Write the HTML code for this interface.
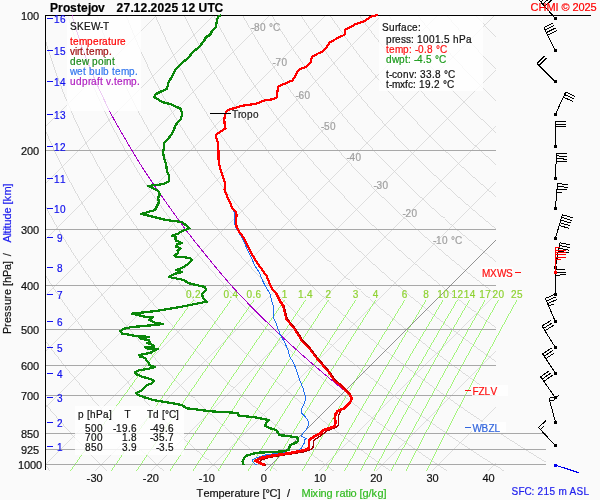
<!DOCTYPE html><html><head><meta charset="utf-8"><style>html,body{margin:0;padding:0;background:#fafafa}svg{display:block}path,rect{shape-rendering:crispEdges}text{font-family:"Liberation Sans",Arial,sans-serif;stroke-width:0.2px}</style></head><body>
<svg width="600" height="500" viewBox="0 0 600 500">
<rect width="600" height="500" fill="#fafafa"/>
<path d="M45 127.45 L157.45 15 M45 183.63 L213.63 15 M45 239.81 L269.81 15 M45 295.99 L325.99 15 M45 352.17 L382.17 15 M45 408.35 L438.35 15 M45 464.53 L494.53 15 M94.71 471 L496 69.71 M150.89 471 L496 125.89 M207.07 471 L496 182.07 M319.43 471 L496 294.43 M375.61 471 L496 350.61 M431.79 471 L496 406.79 M487.97 471 L496 462.97" stroke="#d4d4d4" stroke-width="0.75" fill="none"/>
<path d="M50.35 471 L48.49 469 L46.65 467 L45 465.2 M107.03 471 L105.01 469 L103.01 467 L101.01 465 L99.02 463 L97.05 461 L95.09 459 L93.14 457 L91.2 455 L89.28 453 L87.36 451 L85.46 449 L83.57 447 L81.69 445 L79.82 443 L77.96 441 L76.11 439 L74.28 437 L72.45 435 L70.64 433 L68.83 431 L67.04 429 L65.26 427 L63.49 425 L61.74 423 L59.99 421 L58.25 419 L56.53 417 L54.81 415 L53.11 413 L51.42 411 L49.73 409 L48.06 407 L46.4 405 L45 403.3 M163.72 471 L161.53 469 L159.36 467 L157.2 465 L155.05 463 L152.92 461 L150.79 459 L148.68 457 L146.58 455 L144.49 453 L142.42 451 L140.35 449 L138.3 447 L136.26 445 L134.23 443 L132.22 441 L130.21 439 L128.22 437 L126.23 435 L124.26 433 L122.31 431 L120.36 429 L118.42 427 L116.5 425 L114.59 423 L112.68 421 L110.79 419 L108.92 417 L107.05 415 L105.19 413 L103.35 411 L101.51 409 L99.69 407 L97.88 405 L96.08 403 L94.29 401 L92.51 399 L90.75 397 L88.99 395 L87.25 393 L85.51 391 L83.79 389 L82.08 387 L80.37 385 L78.68 383 L77 381 L75.33 379 L73.68 377 L72.03 375 L70.39 373 L68.76 371 L67.15 369 L65.54 367 L63.95 365 L62.36 363 L60.79 361 L59.22 359 L57.67 357 L56.13 355 L54.6 353 L53.07 351 L51.56 349 L50.06 347 L48.57 345 L47.09 343 L45.62 341 L45 340.16 M220.41 471 L218.06 469 L215.72 467 L213.39 465 L211.08 463 L208.78 461 L206.5 459 L204.22 457 L201.96 455 L199.71 453 L197.47 451 L195.25 449 L193.04 447 L190.84 445 L188.65 443 L186.47 441 L184.31 439 L182.16 437 L180.02 435 L177.89 433 L175.78 431 L173.67 429 L171.58 427 L169.5 425 L167.44 423 L165.38 421 L163.34 419 L161.3 417 L159.28 415 L157.28 413 L155.28 411 L153.29 409 L151.32 407 L149.36 405 L147.41 403 L145.47 401 L143.54 399 L141.63 397 L139.72 395 L137.83 393 L135.95 391 L134.08 389 L132.22 387 L130.37 385 L128.53 383 L126.71 381 L124.9 379 L123.09 377 L121.3 375 L119.52 373 L117.75 371 L115.99 369 L114.24 367 L112.51 365 L110.78 363 L109.06 361 L107.36 359 L105.67 357 L103.98 355 L102.31 353 L100.65 351 L99 349 L97.36 347 L95.73 345 L94.11 343 L92.5 341 L90.9 339 L89.32 337 L87.74 335 L86.17 333 L84.62 331 L83.07 329 L81.54 327 L80.01 325 L78.5 323 L76.99 321 L75.5 319 L74.01 317 L72.54 315 L71.08 313 L69.62 311 L68.18 309 L66.74 307 L65.32 305 L63.91 303 L62.5 301 L61.11 299 L59.73 297 L58.35 295 L56.99 293 L55.63 291 L54.29 289 L52.95 287 L51.63 285 L50.31 283 L49.01 281 L47.71 279 L46.43 277 L45.15 275 L45 274.76 M277.09 471 L274.58 469 L272.08 467 L269.59 465 L267.11 463 L264.65 461 L262.2 459 L259.76 457 L257.34 455 L254.93 453 L252.53 451 L250.14 449 L247.77 447 L245.41 445 L243.06 443 L240.73 441 L238.41 439 L236.1 437 L233.8 435 L231.52 433 L229.25 431 L226.99 429 L224.74 427 L222.51 425 L220.29 423 L218.08 421 L215.88 419 L213.69 417 L211.52 415 L209.36 413 L207.21 411 L205.07 409 L202.95 407 L200.84 405 L198.74 403 L196.65 401 L194.57 399 L192.51 397 L190.46 395 L188.41 393 L186.39 391 L184.37 389 L182.36 387 L180.37 385 L178.39 383 L176.42 381 L174.46 379 L172.51 377 L170.57 375 L168.65 373 L166.73 371 L164.83 369 L162.94 367 L161.06 365 L159.2 363 L157.34 361 L155.49 359 L153.66 357 L151.84 355 L150.03 353 L148.22 351 L146.44 349 L144.66 347 L142.89 345 L141.13 343 L139.39 341 L137.65 339 L135.93 337 L134.22 335 L132.51 333 L130.82 331 L129.14 329 L127.47 327 L125.81 325 L124.17 323 L122.53 321 L120.9 319 L119.29 317 L117.68 315 L116.08 313 L114.5 311 L112.92 309 L111.36 307 L109.81 305 L108.26 303 L106.73 301 L105.21 299 L103.7 297 L102.19 295 L100.7 293 L99.22 291 L97.75 289 L96.29 287 L94.83 285 L93.39 283 L91.96 281 L90.54 279 L89.13 277 L87.73 275 L86.34 273 L84.96 271 L83.58 269 L82.22 267 L80.87 265 L79.53 263 L78.19 261 L76.87 259 L75.56 257 L74.26 255 L72.96 253 L71.68 251 L70.4 249 L69.14 247 L67.88 245 L66.64 243 L65.4 241 L64.17 239 L62.95 237 L61.75 235 L60.55 233 L59.36 231 L58.18 229 L57.01 227 L55.84 225 L54.69 223 L53.55 221 L52.41 219 L51.29 217 L50.17 215 L49.06 213 L47.97 211 L46.88 209 L45.8 207 L45 205.51 M333.78 471 L331.1 469 L328.43 467 L325.78 465 L323.14 463 L320.51 461 L317.9 459 L315.3 457 L312.72 455 L310.14 453 L307.58 451 L305.04 449 L302.51 447 L299.99 445 L297.48 443 L294.99 441 L292.51 439 L290.04 437 L287.59 435 L285.15 433 L282.72 431 L280.3 429 L277.9 427 L275.51 425 L273.14 423 L270.77 421 L268.42 419 L266.08 417 L263.76 415 L261.44 413 L259.14 411 L256.86 409 L254.58 407 L252.32 405 L250.07 403 L247.83 401 L245.6 399 L243.39 397 L241.19 395 L239 393 L236.82 391 L234.66 389 L232.51 387 L230.37 385 L228.24 383 L226.12 381 L224.02 379 L221.93 377 L219.84 375 L217.78 373 L215.72 371 L213.68 369 L211.64 367 L209.62 365 L207.61 363 L205.61 361 L203.63 359 L201.65 357 L199.69 355 L197.74 353 L195.8 351 L193.87 349 L191.96 347 L190.05 345 L188.16 343 L186.27 341 L184.4 339 L182.54 337 L180.69 335 L178.86 333 L177.03 331 L175.21 329 L173.41 327 L171.62 325 L169.84 323 L168.07 321 L166.31 319 L164.56 317 L162.82 315 L161.09 313 L159.38 311 L157.67 309 L155.98 307 L154.29 305 L152.62 303 L150.96 301 L149.3 299 L147.66 297 L146.03 295 L144.41 293 L142.8 291 L141.21 289 L139.62 287 L138.04 285 L136.47 283 L134.92 281 L133.37 279 L131.83 277 L130.31 275 L128.79 273 L127.29 271 L125.79 269 L124.31 267 L122.83 265 L121.37 263 L119.91 261 L118.47 259 L117.03 257 L115.61 255 L114.19 253 L112.79 251 L111.4 249 L110.01 247 L108.64 245 L107.27 243 L105.92 241 L104.57 239 L103.23 237 L101.91 235 L100.59 233 L99.29 231 L97.99 229 L96.7 227 L95.42 225 L94.16 223 L92.9 221 L91.65 219 L90.41 217 L89.18 215 L87.96 213 L86.75 211 L85.54 209 L84.35 207 L83.17 205 L82 203 L80.83 201 L79.67 199 L78.53 197 L77.39 195 L76.26 193 L75.14 191 L74.03 189 L72.93 187 L71.84 185 L70.76 183 L69.69 181 L68.62 179 L67.57 177 L66.52 175 L65.48 173 L64.45 171 L63.43 169 L62.42 167 L61.42 165 L60.42 163 L59.44 161 L58.46 159 L57.49 157 L56.53 155 L55.58 153 L54.64 151 L53.71 149 L52.78 147 L51.87 145 L50.96 143 L50.06 141 L49.17 139 L48.29 137 L47.41 135 L46.55 133 L45.69 131 L45 129.38 M390.47 471 L387.62 469 L384.79 467 L381.97 465 L379.17 463 L376.38 461 L373.6 459 L370.84 457 L368.09 455 L365.36 453 L362.64 451 L359.93 449 L357.24 447 L354.56 445 L351.9 443 L349.24 441 L346.61 439 L343.98 437 L341.37 435 L338.77 433 L336.19 431 L333.62 429 L331.06 427 L328.52 425 L325.98 423 L323.47 421 L320.96 419 L318.47 417 L315.99 415 L313.53 413 L311.07 411 L308.64 409 L306.21 407 L303.8 405 L301.4 403 L299.01 401 L296.63 399 L294.27 397 L291.92 395 L289.58 393 L287.26 391 L284.95 389 L282.65 387 L280.36 385 L278.09 383 L275.83 381 L273.58 379 L271.34 377 L269.12 375 L266.91 373 L264.71 371 L262.52 369 L260.34 367 L258.18 365 L256.03 363 L253.89 361 L251.76 359 L249.65 357 L247.55 355 L245.46 353 L243.38 351 L241.31 349 L239.25 347 L237.21 345 L235.18 343 L233.16 341 L231.15 339 L229.16 337 L227.17 335 L225.2 333 L223.24 331 L221.29 329 L219.35 327 L217.42 325 L215.51 323 L213.6 321 L211.71 319 L209.83 317 L207.96 315 L206.1 313 L204.25 311 L202.42 309 L200.59 307 L198.78 305 L196.97 303 L195.18 301 L193.4 299 L191.63 297 L189.87 295 L188.13 293 L186.39 291 L184.66 289 L182.95 287 L181.24 285 L179.55 283 L177.87 281 L176.2 279 L174.54 277 L172.89 275 L171.25 273 L169.62 271 L168 269 L166.39 267 L164.79 265 L163.21 263 L161.63 261 L160.06 259 L158.51 257 L156.96 255 L155.43 253 L153.9 251 L152.39 249 L150.88 247 L149.39 245 L147.91 243 L146.43 241 L144.97 239 L143.52 237 L142.07 235 L140.64 233 L139.22 231 L137.8 229 L136.4 227 L135.01 225 L133.62 223 L132.25 221 L130.88 219 L129.53 217 L128.19 215 L126.85 213 L125.53 211 L124.21 209 L122.91 207 L121.61 205 L120.32 203 L119.05 201 L117.78 199 L116.52 197 L115.28 195 L114.04 193 L112.81 191 L111.59 189 L110.38 187 L109.18 185 L107.99 183 L106.8 181 L105.63 179 L104.47 177 L103.31 175 L102.17 173 L101.03 171 L99.9 169 L98.79 167 L97.68 165 L96.58 163 L95.49 161 L94.41 159 L93.33 157 L92.27 155 L91.21 153 L90.17 151 L89.13 149 L88.1 147 L87.08 145 L86.07 143 L85.07 141 L84.08 139 L83.09 137 L82.12 135 L81.15 133 L80.19 131 L79.24 129 L78.3 127 L77.37 125 L76.45 123 L75.53 121 L74.63 119 L73.73 117 L72.84 115 L71.96 113 L71.08 111 L70.22 109 L69.36 107 L68.51 105 L67.67 103 L66.84 101 L66.02 99 L65.2 97 L64.4 95 L63.6 93 L62.81 91 L62.03 89 L61.25 87 L60.49 85 L59.73 83 L58.98 81 L58.24 79 L57.5 77 L56.78 75 L56.06 73 L55.35 71 L54.65 69 L53.95 67 L53.27 65 L52.59 63 L51.92 61 L51.25 59 L50.6 57 L49.95 55 L49.31 53 L48.68 51 L48.05 49 L47.44 47 L46.83 45 L46.23 43 L45.63 41 L45.05 39 L45 38.84 M447.15 471 L444.14 469 L441.14 467 L438.16 465 L435.2 463 L432.24 461 L429.3 459 L426.38 457 L423.47 455 L420.58 453 L417.69 451 L414.83 449 L411.97 447 L409.14 445 L406.31 443 L403.5 441 L400.71 439 L397.92 437 L395.15 435 L392.4 433 L389.66 431 L386.93 429 L384.22 427 L381.52 425 L378.83 423 L376.16 421 L373.5 419 L370.86 417 L368.23 415 L365.61 413 L363.01 411 L360.42 409 L357.84 407 L355.27 405 L352.72 403 L350.19 401 L347.66 399 L345.15 397 L342.65 395 L340.17 393 L337.7 391 L335.24 389 L332.79 387 L330.36 385 L327.94 383 L325.53 381 L323.14 379 L320.76 377 L318.39 375 L316.03 373 L313.69 371 L311.36 369 L309.04 367 L306.74 365 L304.45 363 L302.17 361 L299.9 359 L297.64 357 L295.4 355 L293.17 353 L290.95 351 L288.75 349 L286.55 347 L284.37 345 L282.2 343 L280.05 341 L277.9 339 L275.77 337 L273.65 335 L271.54 333 L269.44 331 L267.36 329 L265.29 327 L263.22 325 L261.18 323 L259.14 321 L257.11 319 L255.1 317 L253.1 315 L251.11 313 L249.13 311 L247.16 309 L245.21 307 L243.26 305 L241.33 303 L239.41 301 L237.5 299 L235.6 297 L233.71 295 L231.84 293 L229.97 291 L228.12 289 L226.28 287 L224.45 285 L222.63 283 L220.82 281 L219.02 279 L217.24 277 L215.46 275 L213.7 273 L211.95 271 L210.21 269 L208.47 267 L206.75 265 L205.04 263 L203.35 261 L201.66 259 L199.98 257 L198.31 255 L196.66 253 L195.01 251 L193.38 249 L191.76 247 L190.14 245 L188.54 243 L186.95 241 L185.37 239 L183.8 237 L182.23 235 L180.68 233 L179.14 231 L177.61 229 L176.1 227 L174.59 225 L173.09 223 L171.6 221 L170.12 219 L168.65 217 L167.19 215 L165.74 213 L164.31 211 L162.88 209 L161.46 207 L160.05 205 L158.65 203 L157.27 201 L155.89 199 L154.52 197 L153.16 195 L151.81 193 L150.47 191 L149.14 189 L147.82 187 L146.51 185 L145.21 183 L143.92 181 L142.64 179 L141.37 177 L140.11 175 L138.85 173 L137.61 171 L136.38 169 L135.15 167 L133.94 165 L132.73 163 L131.54 161 L130.35 159 L129.17 157 L128 155 L126.85 153 L125.7 151 L124.55 149 L123.42 147 L122.3 145 L121.19 143 L120.08 141 L118.99 139 L117.9 137 L116.83 135 L115.76 133 L114.7 131 L113.65 129 L112.61 127 L111.57 125 L110.55 123 L109.54 121 L108.53 119 L107.53 117 L106.54 115 L105.56 113 L104.59 111 L103.63 109 L102.68 107 L101.73 105 L100.8 103 L99.87 101 L98.95 99 L98.04 97 L97.14 95 L96.24 93 L95.36 91 L94.48 89 L93.61 87 L92.75 85 L91.9 83 L91.05 81 L90.22 79 L89.39 77 L88.57 75 L87.76 73 L86.96 71 L86.16 69 L85.38 67 L84.6 65 L83.83 63 L83.07 61 L82.31 59 L81.57 57 L80.83 55 L80.1 53 L79.38 51 L78.67 49 L77.96 47 L77.26 45 L76.57 43 L75.89 41 L75.21 39 L74.55 37 L73.89 35 L73.24 33 L72.59 31 L71.96 29 L71.33 27 L70.71 25 L70.1 23 L69.49 21 L68.89 19 L68.3 17 L67.72 15 L67.72 15 M496 466.05 L494.36 465 L491.22 463 L488.11 461 L485.01 459 L481.92 457 L478.85 455 L475.79 453 L472.75 451 L469.72 449 L466.71 447 L463.71 445 L460.73 443 L457.76 441 L454.8 439 L451.86 437 L448.94 435 L446.03 433 L443.13 431 L440.25 429 L437.38 427 L434.52 425 L431.68 423 L428.86 421 L426.05 419 L423.25 417 L420.46 415 L417.69 413 L414.94 411 L412.2 409 L409.47 407 L406.75 405 L404.05 403 L401.37 401 L398.69 399 L396.03 397 L393.39 395 L390.75 393 L388.13 391 L385.53 389 L382.94 387 L380.36 385 L377.79 383 L375.24 381 L372.7 379 L370.18 377 L367.66 375 L365.16 373 L362.68 371 L360.2 369 L357.74 367 L355.3 365 L352.86 363 L350.44 361 L348.03 359 L345.64 357 L343.25 355 L340.89 353 L338.53 351 L336.18 349 L333.85 347 L331.53 345 L329.23 343 L326.93 341 L324.65 339 L322.38 337 L320.13 335 L317.88 333 L315.65 331 L313.43 329 L311.22 327 L309.03 325 L306.85 323 L304.68 321 L302.52 319 L300.37 317 L298.24 315 L296.12 313 L294.01 311 L291.91 309 L289.82 307 L287.75 305 L285.69 303 L283.63 301 L281.6 299 L279.57 297 L277.55 295 L275.55 293 L273.56 291 L271.58 289 L269.61 287 L267.65 285 L265.71 283 L263.78 281 L261.85 279 L259.94 277 L258.04 275 L256.15 273 L254.28 271 L252.41 269 L250.56 267 L248.72 265 L246.88 263 L245.06 261 L243.25 259 L241.46 257 L239.67 255 L237.89 253 L236.13 251 L234.37 249 L232.63 247 L230.9 245 L229.18 243 L227.46 241 L225.76 239 L224.08 237 L222.4 235 L220.73 233 L219.07 231 L217.43 229 L215.79 227 L214.17 225 L212.55 223 L210.95 221 L209.36 219 L207.77 217 L206.2 215 L204.64 213 L203.09 211 L201.55 209 L200.01 207 L198.49 205 L196.98 203 L195.48 201 L193.99 199 L192.51 197 L191.04 195 L189.59 193 L188.14 191 L186.7 189 L185.27 187 L183.85 185 L182.44 183 L181.04 181 L179.65 179 L178.27 177 L176.9 175 L175.54 173 L174.19 171 L172.85 169 L171.52 167 L170.2 165 L168.89 163 L167.59 161 L166.29 159 L165.01 157 L163.74 155 L162.48 153 L161.22 151 L159.98 149 L158.74 147 L157.52 145 L156.3 143 L155.1 141 L153.9 139 L152.71 137 L151.53 135 L150.36 133 L149.2 131 L148.05 129 L146.91 127 L145.78 125 L144.65 123 L143.54 121 L142.44 119 L141.34 117 L140.25 115 L139.17 113 L138.11 111 L137.05 109 L135.99 107 L134.95 105 L133.92 103 L132.89 101 L131.88 99 L130.87 97 L129.87 95 L128.88 93 L127.9 91 L126.93 89 L125.97 87 L125.01 85 L124.07 83 L123.13 81 L122.2 79 L121.28 77 L120.37 75 L119.46 73 L118.57 71 L117.68 69 L116.8 67 L115.93 65 L115.07 63 L114.22 61 L113.38 59 L112.54 57 L111.71 55 L110.89 53 L110.08 51 L109.28 49 L108.48 47 L107.69 45 L106.92 43 L106.14 41 L105.38 39 L104.63 37 L103.88 35 L103.14 33 L102.41 31 L101.69 29 L100.97 27 L100.27 25 L99.57 23 L98.88 21 L98.19 19 L97.52 17 L96.85 15 L96.85 15 M503.84 471 L500.66 469 L497.5 467 L496 466.05 M496 430.6 L493.56 429 L490.54 427 L487.53 425 L484.53 423 L481.55 421 L478.59 419 L475.64 417 L472.7 415 L469.78 413 L466.87 411 L463.98 409 L461.1 407 L458.23 405 L455.38 403 L452.54 401 L449.72 399 L446.91 397 L444.12 395 L441.34 393 L438.57 391 L435.82 389 L433.08 387 L430.35 385 L427.64 383 L424.95 381 L422.26 379 L419.59 377 L416.94 375 L414.29 373 L411.66 371 L409.05 369 L406.44 367 L403.85 365 L401.28 363 L398.72 361 L396.17 359 L393.63 357 L391.11 355 L388.6 353 L386.1 351 L383.62 349 L381.15 347 L378.69 345 L376.25 343 L373.82 341 L371.4 339 L368.99 337 L366.6 335 L364.22 333 L361.86 331 L359.5 329 L357.16 327 L354.83 325 L352.52 323 L350.21 321 L347.92 319 L345.64 317 L343.38 315 L341.12 313 L338.88 311 L336.65 309 L334.44 307 L332.23 305 L330.04 303 L327.86 301 L325.69 299 L323.54 297 L321.39 295 L319.26 293 L317.14 291 L315.04 289 L312.94 287 L310.86 285 L308.79 283 L306.73 281 L304.68 279 L302.65 277 L300.62 275 L298.61 273 L296.61 271 L294.62 269 L292.64 267 L290.68 265 L288.72 263 L286.78 261 L284.85 259 L282.93 257 L281.02 255 L279.12 253 L277.24 251 L275.36 249 L273.5 247 L271.65 245 L269.81 243 L267.98 241 L266.16 239 L264.36 237 L262.56 235 L260.78 233 L259 231 L257.24 229 L255.49 227 L253.75 225 L252.02 223 L250.3 221 L248.59 219 L246.89 217 L245.21 215 L243.53 213 L241.87 211 L240.21 209 L238.57 207 L236.94 205 L235.31 203 L233.7 201 L232.1 199 L230.51 197 L228.93 195 L227.36 193 L225.8 191 L224.25 189 L222.71 187 L221.18 185 L219.67 183 L218.16 181 L216.66 179 L215.17 177 L213.69 175 L212.23 173 L210.77 171 L209.32 169 L207.89 167 L206.46 165 L205.04 163 L203.64 161 L202.24 159 L200.85 157 L199.47 155 L198.11 153 L196.75 151 L195.4 149 L194.06 147 L192.74 145 L191.42 143 L190.11 141 L188.81 139 L187.52 137 L186.24 135 L184.97 133 L183.71 131 L182.46 129 L181.21 127 L179.98 125 L178.76 123 L177.55 121 L176.34 119 L175.15 117 L173.96 115 L172.78 113 L171.62 111 L170.46 109 L169.31 107 L168.17 105 L167.04 103 L165.92 101 L164.81 99 L163.7 97 L162.61 95 L161.53 93 L160.45 91 L159.38 89 L158.32 87 L157.28 85 L156.24 83 L155.2 81 L154.18 79 L153.17 77 L152.16 75 L151.17 73 L150.18 71 L149.2 69 L148.23 67 L147.27 65 L146.32 63 L145.37 61 L144.44 59 L143.51 57 L142.59 55 L141.68 53 L140.78 51 L139.89 49 L139 47 L138.13 45 L137.26 43 L136.4 41 L135.55 39 L134.71 37 L133.87 35 L133.05 33 L132.23 31 L131.42 29 L130.62 27 L129.82 25 L129.04 23 L128.26 21 L127.49 19 L126.73 17 L125.98 15 L125.98 15 M546 462.24 L543.97 461 L540.71 459 L537.46 457 L534.23 455 L531.01 453 L527.8 451 L524.62 449 L521.44 447 L518.29 445 L515.14 443 L512.02 441 L508.9 439 L505.81 437 L502.72 435 L499.65 433 L499.65 433 M496 395.78 L494.85 395 L491.92 393 L489.01 391 L486.11 389 L483.22 387 L480.35 385 L477.49 383 L474.65 381 L471.82 379 L469.01 377 L466.21 375 L463.42 373 L460.65 371 L457.89 369 L455.14 367 L452.41 365 L449.7 363 L446.99 361 L444.3 359 L441.63 357 L438.96 355 L436.31 353 L433.68 351 L431.06 349 L428.45 347 L425.85 345 L423.27 343 L420.7 341 L418.15 339 L415.61 337 L413.08 335 L410.56 333 L408.06 331 L405.57 329 L403.1 327 L400.64 325 L398.19 323 L395.75 321 L393.33 319 L390.91 317 L388.52 315 L386.13 313 L383.76 311 L381.4 309 L379.05 307 L376.72 305 L374.4 303 L372.09 301 L369.79 299 L367.51 297 L365.24 295 L362.98 293 L360.73 291 L358.5 289 L356.27 287 L354.06 285 L351.87 283 L349.68 281 L347.51 279 L345.35 277 L343.2 275 L341.06 273 L338.94 271 L336.83 269 L334.73 267 L332.64 265 L330.56 263 L328.5 261 L326.44 259 L324.4 257 L322.37 255 L320.36 253 L318.35 251 L316.36 249 L314.38 247 L312.4 245 L310.45 243 L308.5 241 L306.56 239 L304.64 237 L302.72 235 L300.82 233 L298.93 231 L297.05 229 L295.18 227 L293.33 225 L291.48 223 L289.65 221 L287.83 219 L286.01 217 L284.21 215 L282.42 213 L280.65 211 L278.88 209 L277.12 207 L275.38 205 L273.64 203 L271.92 201 L270.21 199 L268.5 197 L266.81 195 L265.13 193 L263.46 191 L261.8 189 L260.16 187 L258.52 185 L256.89 183 L255.27 181 L253.67 179 L252.07 177 L250.49 175 L248.91 173 L247.35 171 L245.8 169 L244.25 167 L242.72 165 L241.2 163 L239.69 161 L238.18 159 L236.69 157 L235.21 155 L233.74 153 L232.28 151 L230.83 149 L229.38 147 L227.95 145 L226.53 143 L225.12 141 L223.72 139 L222.33 137 L220.95 135 L219.57 133 L218.21 131 L216.86 129 L215.52 127 L214.19 125 L212.86 123 L211.55 121 L210.25 119 L208.95 117 L207.67 115 L206.39 113 L205.13 111 L203.87 109 L202.63 107 L201.39 105 L200.16 103 L198.95 101 L197.74 99 L196.54 97 L195.35 95 L194.17 93 L193 91 L191.83 89 L190.68 87 L189.54 85 L188.4 83 L187.28 81 L186.16 79 L185.06 77 L183.96 75 L182.87 73 L181.79 71 L180.72 69 L179.66 67 L178.6 65 L177.56 63 L176.52 61 L175.5 59 L174.48 57 L173.47 55 L172.47 53 L171.48 51 L170.5 49 L169.52 47 L168.56 45 L167.6 43 L166.66 41 L165.72 39 L164.79 37 L163.86 35 L162.95 33 L162.04 31 L161.15 29 L160.26 27 L159.38 25 L158.51 23 L157.65 21 L156.79 19 L155.94 17 L155.11 15 L155.11 15 M496 361.51 L495.27 361 L492.44 359 L489.62 357 L486.82 355 L484.03 353 L481.26 351 L478.49 349 L475.75 347 L473.02 345 L470.3 343 L467.59 341 L464.9 339 L462.22 337 L459.56 335 L456.91 333 L454.27 331 L451.65 329 L449.04 327 L446.44 325 L443.86 323 L441.29 321 L438.73 319 L436.19 317 L433.66 315 L431.14 313 L428.64 311 L426.14 309 L423.67 307 L421.2 305 L418.75 303 L416.31 301 L413.89 299 L411.48 297 L409.08 295 L406.69 293 L404.31 291 L401.95 289 L399.6 287 L397.27 285 L394.95 283 L392.64 281 L390.34 279 L388.05 277 L385.78 275 L383.52 273 L381.27 271 L379.03 269 L376.81 267 L374.6 265 L372.4 263 L370.21 261 L368.04 259 L365.88 257 L363.73 255 L361.59 253 L359.46 251 L357.35 249 L355.25 247 L353.16 245 L351.08 243 L349.01 241 L346.96 239 L344.92 237 L342.89 235 L340.87 233 L338.86 231 L336.87 229 L334.88 227 L332.91 225 L330.95 223 L329 221 L327.06 219 L325.14 217 L323.22 215 L321.32 213 L319.43 211 L317.55 209 L315.68 207 L313.82 205 L311.97 203 L310.14 201 L308.31 199 L306.5 197 L304.7 195 L302.91 193 L301.13 191 L299.36 189 L297.6 187 L295.85 185 L294.12 183 L292.39 181 L290.68 179 L288.98 177 L287.28 175 L285.6 173 L283.93 171 L282.27 169 L280.62 167 L278.98 165 L277.35 163 L275.73 161 L274.13 159 L272.53 157 L270.94 155 L269.37 153 L267.8 151 L266.25 149 L264.7 147 L263.17 145 L261.65 143 L260.13 141 L258.63 139 L257.14 137 L255.65 135 L254.18 133 L252.72 131 L251.26 129 L249.82 127 L248.39 125 L246.97 123 L245.55 121 L244.15 119 L242.76 117 L241.38 115 L240 113 L238.64 111 L237.29 109 L235.94 107 L234.61 105 L233.29 103 L231.97 101 L230.67 99 L229.37 97 L228.09 95 L226.81 93 L225.54 91 L224.29 89 L223.04 87 L221.8 85 L220.57 83 L219.35 81 L218.14 79 L216.94 77 L215.75 75 L214.57 73 L213.4 71 L212.24 69 L211.08 67 L209.94 65 L208.8 63 L207.68 61 L206.56 59 L205.45 57 L204.35 55 L203.26 53 L202.18 51 L201.11 49 L200.05 47 L198.99 45 L197.95 43 L196.91 41 L195.88 39 L194.86 37 L193.85 35 L192.85 33 L191.86 31 L190.88 29 L189.9 27 L188.94 25 L187.98 23 L187.03 21 L186.09 19 L185.16 17 L184.23 15 L184.23 15 M496 327.75 L494.97 327 L492.24 325 L489.53 323 L486.82 321 L484.13 319 L481.46 317 L478.8 315 L476.15 313 L473.51 311 L470.89 309 L468.28 307 L465.69 305 L463.11 303 L460.54 301 L457.98 299 L455.44 297 L452.92 295 L450.4 293 L447.9 291 L445.41 289 L442.94 287 L440.47 285 L438.02 283 L435.59 281 L433.17 279 L430.75 277 L428.36 275 L425.97 273 L423.6 271 L421.24 269 L418.89 267 L416.56 265 L414.24 263 L411.93 261 L409.64 259 L407.35 257 L405.08 255 L402.82 253 L400.58 251 L398.34 249 L396.12 247 L393.91 245 L391.71 243 L389.53 241 L387.36 239 L385.2 237 L383.05 235 L380.91 233 L378.79 231 L376.68 229 L374.58 227 L372.49 225 L370.41 223 L368.35 221 L366.3 219 L364.26 217 L362.23 215 L360.21 213 L358.21 211 L356.21 209 L354.23 207 L352.26 205 L350.3 203 L348.35 201 L346.42 199 L344.49 197 L342.58 195 L340.68 193 L338.79 191 L336.91 189 L335.05 187 L333.19 185 L331.34 183 L329.51 181 L327.69 179 L325.88 177 L324.08 175 L322.29 173 L320.51 171 L318.74 169 L316.99 167 L315.24 165 L313.51 163 L311.78 161 L310.07 159 L308.37 157 L306.68 155 L305 153 L303.33 151 L301.67 149 L300.02 147 L298.39 145 L296.76 143 L295.14 141 L293.54 139 L291.94 137 L290.36 135 L288.79 133 L287.22 131 L285.67 129 L284.13 127 L282.59 125 L281.07 123 L279.56 121 L278.06 119 L276.57 117 L275.08 115 L273.61 113 L272.15 111 L270.7 109 L269.26 107 L267.83 105 L266.41 103 L265 101 L263.6 99 L262.2 97 L260.82 95 L259.45 93 L258.09 91 L256.74 89 L255.4 87 L254.06 85 L252.74 83 L251.43 81 L250.13 79 L248.83 77 L247.55 75 L246.28 73 L245.01 71 L243.76 69 L242.51 67 L241.27 65 L240.05 63 L238.83 61 L237.62 59 L236.42 57 L235.23 55 L234.05 53 L232.88 51 L231.72 49 L230.57 47 L229.43 45 L228.29 43 L227.17 41 L226.05 39 L224.94 37 L223.85 35 L222.76 33 L221.68 31 L220.61 29 L219.55 27 L218.49 25 L217.45 23 L216.41 21 L215.39 19 L214.37 17 L213.36 15 L213.36 15 M496 294.43 L494.11 293 L491.48 291 L488.87 289 L486.27 287 L483.68 285 L481.1 283 L478.54 281 L475.99 279 L473.46 277 L470.94 275 L468.43 273 L465.93 271 L463.45 269 L460.98 267 L458.52 265 L456.08 263 L453.65 261 L451.23 259 L448.83 257 L446.43 255 L444.05 253 L441.69 251 L439.33 249 L436.99 247 L434.67 245 L432.35 243 L430.05 241 L427.76 239 L425.48 237 L423.21 235 L420.96 233 L418.72 231 L416.49 229 L414.27 227 L412.07 225 L409.88 223 L407.7 221 L405.53 219 L403.38 217 L401.24 215 L399.1 213 L396.99 211 L394.88 209 L392.79 207 L390.7 205 L388.63 203 L386.57 201 L384.53 199 L382.49 197 L380.47 195 L378.45 193 L376.45 191 L374.47 189 L372.49 187 L370.52 185 L368.57 183 L366.63 181 L364.7 179 L362.78 177 L360.87 175 L358.97 173 L357.09 171 L355.22 169 L353.35 167 L351.5 165 L349.66 163 L347.83 161 L346.02 159 L344.21 157 L342.42 155 L340.63 153 L338.86 151 L337.1 149 L335.34 147 L333.6 145 L331.87 143 L330.16 141 L328.45 139 L326.75 137 L325.07 135 L323.39 133 L321.73 131 L320.07 129 L318.43 127 L316.8 125 L315.17 123 L313.56 121 L311.96 119 L310.37 117 L308.79 115 L307.22 113 L305.66 111 L304.11 109 L302.58 107 L301.05 105 L299.53 103 L298.02 101 L296.53 99 L295.04 97 L293.56 95 L292.09 93 L290.64 91 L289.19 89 L287.75 87 L286.33 85 L284.91 83 L283.5 81 L282.11 79 L280.72 77 L279.34 75 L277.98 73 L276.62 71 L275.27 69 L273.94 67 L272.61 65 L271.29 63 L269.98 61 L268.68 59 L267.39 57 L266.11 55 L264.84 53 L263.58 51 L262.33 49 L261.09 47 L259.86 45 L258.64 43 L257.42 41 L256.22 39 L255.02 37 L253.84 35 L252.66 33 L251.5 31 L250.34 29 L249.19 27 L248.05 25 L246.92 23 L245.8 21 L244.69 19 L243.59 17 L242.49 15 L242.49 15 M496 261.5 L495.37 261 L492.83 259 L490.3 257 L487.79 255 L485.29 253 L482.8 251 L480.33 249 L477.87 247 L475.42 245 L472.98 243 L470.56 241 L468.15 239 L465.76 237 L463.38 235 L461.01 233 L458.65 231 L456.3 229 L453.97 227 L451.65 225 L449.34 223 L447.05 221 L444.77 219 L442.5 217 L440.24 215 L438 213 L435.77 211 L433.55 209 L431.34 207 L429.14 205 L426.96 203 L424.79 201 L422.63 199 L420.49 197 L418.35 195 L416.23 193 L414.12 191 L412.02 189 L409.93 187 L407.86 185 L405.8 183 L403.75 181 L401.71 179 L399.68 177 L397.67 175 L395.66 173 L393.67 171 L391.69 169 L389.72 167 L387.76 165 L385.82 163 L383.88 161 L381.96 159 L380.05 157 L378.15 155 L376.26 153 L374.38 151 L372.52 149 L370.66 147 L368.82 145 L366.99 143 L365.17 141 L363.36 139 L361.56 137 L359.77 135 L358 133 L356.23 131 L354.48 129 L352.73 127 L351 125 L349.28 123 L347.57 121 L345.87 119 L344.18 117 L342.5 115 L340.83 113 L339.17 111 L337.53 109 L335.89 107 L334.27 105 L332.65 103 L331.05 101 L329.45 99 L327.87 97 L326.3 95 L324.74 93 L323.18 91 L321.64 89 L320.11 87 L318.59 85 L317.08 83 L315.58 81 L314.09 79 L312.61 77 L311.14 75 L309.68 73 L308.23 71 L306.79 69 L305.36 67 L303.94 65 L302.53 63 L301.13 61 L299.74 59 L298.36 57 L296.99 55 L295.63 53 L294.28 51 L292.94 49 L291.61 47 L290.29 45 L288.98 43 L287.68 41 L286.39 39 L285.1 37 L283.83 35 L282.57 33 L281.31 31 L280.07 29 L278.83 27 L277.61 25 L276.39 23 L275.18 21 L273.99 19 L272.8 17 L271.62 15 L271.62 15 M496 228.91 L493.67 227 L491.23 225 L488.81 223 L486.4 221 L484 219 L481.62 217 L479.25 215 L476.89 213 L474.55 211 L472.21 209 L469.89 207 L467.59 205 L465.29 203 L463.01 201 L460.74 199 L458.48 197 L456.24 195 L454 193 L451.78 191 L449.57 189 L447.38 187 L445.19 185 L443.02 183 L440.86 181 L438.72 179 L436.58 177 L434.46 175 L432.35 173 L430.25 171 L428.16 169 L426.09 167 L424.02 165 L421.97 163 L419.93 161 L417.91 159 L415.89 157 L413.89 155 L411.89 153 L409.91 151 L407.94 149 L405.98 147 L404.04 145 L402.1 143 L400.18 141 L398.27 139 L396.37 137 L394.48 135 L392.6 133 L390.74 131 L388.88 129 L387.04 127 L385.2 125 L383.38 123 L381.57 121 L379.77 119 L377.98 117 L376.21 115 L374.44 113 L372.69 111 L370.94 109 L369.21 107 L367.49 105 L365.77 103 L364.07 101 L362.38 99 L360.7 97 L359.04 95 L357.38 93 L355.73 91 L354.1 89 L352.47 87 L350.85 85 L349.25 83 L347.66 81 L346.07 79 L344.5 77 L342.94 75 L341.38 73 L339.84 71 L338.31 69 L336.79 67 L335.28 65 L333.78 63 L332.29 61 L330.8 59 L329.33 57 L327.87 55 L326.42 53 L324.98 51 L323.55 49 L322.13 47 L320.72 45 L319.32 43 L317.93 41 L316.55 39 L315.18 37 L313.82 35 L312.47 33 L311.13 31 L309.8 29 L308.48 27 L307.16 25 L305.86 23 L304.57 21 L303.29 19 L302.01 17 L300.75 15 L300.75 15 M496 196.6 L494.12 195 L491.78 193 L489.45 191 L487.13 189 L484.82 187 L482.53 185 L480.25 183 L477.98 181 L475.73 179 L473.48 177 L471.25 175 L469.04 173 L466.83 171 L464.64 169 L462.45 167 L460.28 165 L458.13 163 L455.98 161 L453.85 159 L451.73 157 L449.62 155 L447.52 153 L445.44 151 L443.37 149 L441.3 147 L439.26 145 L437.22 143 L435.19 141 L433.18 139 L431.18 137 L429.19 135 L427.21 133 L425.24 131 L423.28 129 L421.34 127 L419.41 125 L417.49 123 L415.58 121 L413.68 119 L411.79 117 L409.91 115 L408.05 113 L406.2 111 L404.36 109 L402.52 107 L400.71 105 L398.9 103 L397.1 101 L395.31 99 L393.54 97 L391.77 95 L390.02 93 L388.28 91 L386.55 89 L384.83 87 L383.12 85 L381.42 83 L379.73 81 L378.05 79 L376.39 77 L374.73 75 L373.09 73 L371.45 71 L369.83 69 L368.21 67 L366.61 65 L365.02 63 L363.44 61 L361.87 59 L360.3 57 L358.75 55 L357.21 53 L355.68 51 L354.16 49 L352.66 47 L351.16 45 L349.67 43 L348.19 41 L346.72 39 L345.26 37 L343.81 35 L342.37 33 L340.95 31 L339.53 29 L338.12 27 L336.72 25 L335.33 23 L333.95 21 L332.59 19 L331.23 17 L329.88 15 L329.88 15 M496 164.52 L494.28 163 L492.03 161 L489.79 159 L487.57 157 L485.36 155 L483.15 153 L480.97 151 L478.79 149 L476.62 147 L474.47 145 L472.33 143 L470.2 141 L468.09 139 L465.98 137 L463.89 135 L461.81 133 L459.74 131 L457.69 129 L455.64 127 L453.61 125 L451.59 123 L449.58 121 L447.58 119 L445.6 117 L443.62 115 L441.66 113 L439.71 111 L437.77 109 L435.84 107 L433.92 105 L432.02 103 L430.13 101 L428.24 99 L426.37 97 L424.51 95 L422.66 93 L420.83 91 L419 89 L417.18 87 L415.38 85 L413.59 83 L411.81 81 L410.04 79 L408.28 77 L406.53 75 L404.79 73 L403.06 71 L401.35 69 L399.64 67 L397.95 65 L396.26 63 L394.59 61 L392.93 59 L391.28 57 L389.63 55 L388 53 L386.38 51 L384.78 49 L383.18 47 L381.59 45 L380.01 43 L378.44 41 L376.89 39 L375.34 37 L373.8 35 L372.28 33 L370.76 31 L369.26 29 L367.76 27 L366.28 25 L364.8 23 L363.34 21 L361.88 19 L360.44 17 L359.01 15 L359.01 15 M496 132.61 L494.25 131 L492.09 129 L489.95 127 L487.81 125 L485.69 123 L483.58 121 L481.49 119 L479.4 117 L477.33 115 L475.27 113 L473.22 111 L471.18 109 L469.16 107 L467.14 105 L465.14 103 L463.15 101 L461.17 99 L459.21 97 L457.25 95 L455.31 93 L453.37 91 L451.45 89 L449.54 87 L447.64 85 L445.76 83 L443.88 81 L442.02 79 L440.16 77 L438.32 75 L436.49 73 L434.67 71 L432.86 69 L431.07 67 L429.28 65 L427.51 63 L425.74 61 L423.99 59 L422.25 57 L420.51 55 L418.79 53 L417.09 51 L415.39 49 L413.7 47 L412.02 45 L410.35 43 L408.7 41 L407.05 39 L405.42 37 L403.8 35 L402.18 33 L400.58 31 L398.99 29 L397.41 27 L395.83 25 L394.27 23 L392.72 21 L391.18 19 L389.65 17 L388.13 15 L388.13 15 M496 100.83 L494.1 99 L492.04 97 L489.99 95 L487.95 93 L485.92 91 L483.9 89 L481.9 87 L479.91 85 L477.93 83 L475.96 81 L474 79 L472.05 77 L470.12 75 L468.19 73 L466.28 71 L464.38 69 L462.49 67 L460.61 65 L458.75 63 L456.89 61 L455.05 59 L453.22 57 L451.4 55 L449.58 53 L447.79 51 L446 49 L444.22 47 L442.45 45 L440.7 43 L438.95 41 L437.22 39 L435.5 37 L433.79 35 L432.09 33 L430.4 31 L428.72 29 L427.05 27 L425.39 25 L423.74 23 L422.11 21 L420.48 19 L418.87 17 L417.26 15 L417.26 15 M496 69.1 L495.9 69 L493.92 67 L491.95 65 L489.99 63 L488.05 61 L486.11 59 L484.19 57 L482.28 55 L480.38 53 L478.49 51 L476.61 49 L474.74 47 L472.89 45 L471.04 43 L469.21 41 L467.39 39 L465.58 37 L463.78 35 L461.99 33 L460.21 31 L458.45 29 L456.69 27 L454.95 25 L453.22 23 L451.49 21 L449.78 19 L448.08 17 L446.39 15 L446.39 15 M496 37.36 L495.66 37 L493.77 35 L491.9 33 L490.03 31 L488.18 29 L486.34 27 L484.51 25 L482.69 23 L480.88 21 L479.08 19 L477.29 17 L475.52 15 L475.52 15" stroke="#d4d4d4" stroke-width="0.8" fill="none"/>
<path d="M193.38 300 L189.73 305 L186.08 310 L182.43 315 L178.78 320 L175.14 325 L171.5 330 L167.87 335 L164.24 340 L160.61 345 L156.98 350 L153.36 355 L149.75 360 L146.13 365 L142.52 370 L138.91 375 L135.31 380 L131.7 385 L128.11 390 L124.51 395 L120.92 400 L117.33 405 L113.75 410 L110.17 415 L106.59 420 L103.02 425 L99.45 430 L95.88 435 L92.32 440 L88.76 445 L85.2 450 L81.65 455 L78.1 460 L74.56 465 L70.31 471 M230.96 300 L227.4 305 L223.84 310 L220.28 315 L216.73 320 L213.18 325 L209.64 330 L206.1 335 L202.56 340 L199.02 345 L195.49 350 L191.97 355 L188.44 360 L184.92 365 L181.41 370 L177.9 375 L174.39 380 L170.88 385 L167.38 390 L163.89 395 L160.39 400 L156.9 405 L153.42 410 L149.94 415 L146.46 420 L142.99 425 L139.52 430 L136.05 435 L132.59 440 L129.13 445 L125.68 450 L122.22 455 L118.78 460 L115.34 465 L111.21 471 M254.12 300 L250.62 305 L247.12 310 L243.62 315 L240.12 320 L236.63 325 L233.15 330 L229.67 335 L226.19 340 L222.71 345 L219.24 350 L215.78 355 L212.31 360 L208.85 365 L205.4 370 L201.95 375 L198.5 380 L195.06 385 L191.62 390 L188.18 395 L184.75 400 L181.33 405 L177.9 410 L174.48 415 L171.07 420 L167.66 425 L164.25 430 L160.85 435 L157.45 440 L154.06 445 L150.67 450 L147.28 455 L143.9 460 L140.52 465 L136.48 471 M284.63 300 L281.2 305 L277.78 310 L274.36 315 L270.95 320 L267.54 325 L264.13 330 L260.73 335 L257.33 340 L253.93 345 L250.54 350 L247.16 355 L243.78 360 L240.4 365 L237.03 370 L233.66 375 L230.29 380 L226.93 385 L223.58 390 L220.23 395 L216.88 400 L213.54 405 L210.2 410 L206.86 415 L203.53 420 L200.21 425 L196.89 430 L193.57 435 L190.26 440 L186.95 445 L183.65 450 L180.35 455 L177.06 460 L173.77 465 L169.83 471 M305.59 300 L302.21 305 L298.84 310 L295.48 315 L292.12 320 L288.77 325 L285.41 330 L282.07 335 L278.73 340 L275.39 345 L272.05 350 L268.73 355 L265.4 360 L262.08 365 L258.77 370 L255.45 375 L252.15 380 L248.85 385 L245.55 390 L242.26 395 L238.97 400 L235.68 405 L232.4 410 L229.13 415 L225.86 420 L222.6 425 L219.34 430 L216.08 435 L212.83 440 L209.58 445 L206.34 450 L203.11 455 L199.87 460 L196.65 465 L192.78 471 M328.58 300 L325.27 305 L321.96 310 L318.66 315 L315.36 320 L312.07 325 L308.78 330 L305.5 335 L302.22 340 L298.94 345 L295.67 350 L292.41 355 L289.15 360 L285.89 365 L282.64 370 L279.39 375 L276.15 380 L272.91 385 L269.68 390 L266.45 395 L263.23 400 L260.01 405 L256.8 410 L253.59 415 L250.39 420 L247.19 425 L244 430 L240.81 435 L237.63 440 L234.45 445 L231.28 450 L228.11 455 L224.95 460 L221.79 465 L218.01 471 M355.75 300 L352.51 305 L349.28 310 L346.05 315 L342.82 320 L339.61 325 L336.39 330 L333.18 335 L329.98 340 L326.78 345 L323.59 350 L320.4 355 L317.21 360 L314.04 365 L310.86 370 L307.69 375 L304.53 380 L301.37 385 L298.22 390 L295.07 395 L291.93 400 L288.79 405 L285.66 410 L282.53 415 L279.41 420 L276.29 425 L273.18 430 L270.07 435 L266.97 440 L263.88 445 L260.79 450 L257.7 455 L254.63 460 L251.55 465 L247.87 471 M375.71 300 L372.53 305 L369.35 310 L366.18 315 L363.01 320 L359.85 325 L356.69 330 L353.54 335 L350.39 340 L347.25 345 L344.11 350 L340.98 355 L337.85 360 L334.73 365 L331.62 370 L328.51 375 L325.4 380 L322.3 385 L319.21 390 L316.12 395 L313.03 400 L309.96 405 L306.88 410 L303.82 415 L300.76 420 L297.7 425 L294.65 430 L291.61 435 L288.57 440 L285.53 445 L282.51 450 L279.49 455 L276.47 460 L273.46 465 L269.85 471 M404.85 300 L401.75 305 L398.65 310 L395.56 315 L392.48 320 L389.4 325 L386.32 330 L383.26 335 L380.19 340 L377.14 345 L374.08 350 L371.04 355 L368 360 L364.96 365 L361.93 370 L358.91 375 L355.89 380 L352.88 385 L349.87 390 L346.87 395 L343.88 400 L340.89 405 L337.91 410 L334.93 415 L331.96 420 L329 425 L326.04 430 L323.08 435 L320.14 440 L317.2 445 L314.26 450 L311.33 455 L308.41 460 L305.49 465 L302 471 M426.25 300 L423.21 305 L420.18 310 L417.15 315 L414.13 320 L411.11 325 L408.1 330 L405.09 335 L402.09 340 L399.1 345 L396.11 350 L393.13 355 L390.15 360 L387.18 365 L384.22 370 L381.26 375 L378.31 380 L375.36 385 L372.42 390 L369.49 395 L366.56 400 L363.64 405 L360.72 410 L357.81 415 L354.91 420 L352.01 425 L349.12 430 L346.24 435 L343.36 440 L340.49 445 L337.63 450 L334.77 455 L331.91 460 L329.07 465 L325.66 471 M443.28 300 L440.29 305 L437.3 310 L434.32 315 L431.35 320 L428.38 325 L425.42 330 L422.47 335 L419.52 340 L416.58 345 L413.64 350 L410.71 355 L407.79 360 L404.87 365 L401.96 370 L399.05 375 L396.15 380 L393.26 385 L390.37 390 L387.49 395 L384.62 400 L381.75 405 L378.89 410 L376.03 415 L373.18 420 L370.34 425 L367.51 430 L364.68 435 L361.86 440 L359.04 445 L356.23 450 L353.43 455 L350.63 460 L347.85 465 L344.51 471 M457.46 300 L454.51 305 L451.57 310 L448.63 315 L445.7 320 L442.78 325 L439.86 330 L436.95 335 L434.04 340 L431.14 345 L428.25 350 L425.36 355 L422.48 360 L419.61 365 L416.74 370 L413.88 375 L411.03 380 L408.18 385 L405.34 390 L402.5 395 L399.67 400 L396.85 405 L394.03 410 L391.22 415 L388.42 420 L385.63 425 L382.84 430 L380.06 435 L377.28 440 L374.51 445 L371.75 450 L369 455 L366.25 460 L363.51 465 L360.23 471 M469.65 300 L466.73 305 L463.83 310 L460.93 315 L458.03 320 L455.15 325 L452.26 330 L449.39 335 L446.52 340 L443.66 345 L440.8 350 L437.95 355 L435.11 360 L432.28 365 L429.45 370 L426.62 375 L423.81 380 L421 385 L418.2 390 L415.4 395 L412.61 400 L409.83 405 L407.05 410 L404.28 415 L401.52 420 L398.76 425 L396.02 430 L393.28 435 L390.54 440 L387.81 445 L385.09 450 L382.38 455 L379.67 460 L376.98 465 L373.75 471 M485.24 300 L482.37 305 L479.51 310 L476.66 315 L473.81 320 L470.97 325 L468.14 330 L465.31 335 L462.49 340 L459.68 345 L456.87 350 L454.07 355 L451.28 360 L448.49 365 L445.71 370 L442.94 375 L440.17 380 L437.41 385 L434.66 390 L431.92 395 L429.18 400 L426.45 405 L423.72 410 L421 415 L418.29 420 L415.59 425 L412.89 430 L410.21 435 L407.52 440 L404.85 445 L402.18 450 L399.52 455 L396.87 460 L394.23 465 L391.06 471 M498.49 300 L495.67 305 L492.85 310 L490.04 315 L487.23 320 L484.43 325 L481.64 330 L478.85 335 L476.08 340 L473.3 345 L470.54 350 L467.78 355 L465.03 360 L462.28 365 L459.55 370 L456.82 375 L454.09 380 L451.38 385 L448.67 390 L445.97 395 L443.27 400 L440.58 405 L437.9 410 L435.23 415 L432.57 420 L429.91 425 L427.26 430 L424.61 435 L421.98 440 L419.35 445 L416.73 450 L414.11 455 L411.51 460 L408.91 465 L405.8 471 M516.99 300 L514.22 305 L511.46 310 L508.7 315 L505.96 320 L503.21 325 L500.48 330 L497.75 335 L495.03 340 L492.32 345 L489.61 350 L486.91 355 L484.22 360 L481.54 365 L478.86 370 L476.19 375 L473.53 380 L470.87 385 L468.22 390 L465.58 395 L462.95 400 L460.33 405 L457.71 410 L455.1 415 L452.49 420 L449.9 425 L447.31 430 L444.73 435 L442.16 440 L439.6 445 L437.04 450 L434.49 455 L431.95 460 L429.42 465 L426.39 471" stroke="#8ef45c" stroke-width="0.8" fill="none"/>
<path d="M45 150.5 H496 M45 229.5 H496 M45 285.5 H496 M45 329.5 H496 M45 365.5 H496 M45 395.5 H496 M45 433.5 H546 M45 449.5 H546 M45 464.5 H546" stroke="#a8a8a8" stroke-width="1" fill="none"/>
<path d="M264.6 471 L496 239.6" stroke="#707070" stroke-width="0.75" fill="none"/>
<path d="M45.5 470 V15.5 H591" stroke="#000" stroke-width="1" fill="none"/>
<text x="251 254 260 266 269 273" y="30.8" font-size="10" fill="#a0a0a0" stroke="#a0a0a0" stroke-width="0.1">-80 °C</text>
<text x="272.5 275.5 281.5" y="65.8" font-size="10" fill="#a0a0a0" stroke="#a0a0a0" stroke-width="0.1">-70</text>
<text x="295.5 298.5 304.5" y="98.8" font-size="10" fill="#a0a0a0" stroke="#a0a0a0" stroke-width="0.1">-60</text>
<text x="321 324 330" y="129.8" font-size="10" fill="#a0a0a0" stroke="#a0a0a0" stroke-width="0.1">-50</text>
<text x="346.5 349.5 355.5" y="160.5" font-size="10" fill="#a0a0a0" stroke="#a0a0a0" stroke-width="0.1">-40</text>
<text x="373.5 376.5 382.5" y="189.4" font-size="10" fill="#a0a0a0" stroke="#a0a0a0" stroke-width="0.1">-30</text>
<text x="402.5 405.5 411.5" y="216.8" font-size="10" fill="#a0a0a0" stroke="#a0a0a0" stroke-width="0.1">-20</text>
<text x="433 436 442 448 451 455" y="243.8" font-size="10" fill="#a0a0a0" stroke="#a0a0a0" stroke-width="0.1">-10 °C</text>
<text x="185.88 191.88 194.88" y="298.3" font-size="10" fill="#8fd232" stroke="#8fd232" stroke-width="0">0.2</text>
<text x="223.46 229.46 232.46" y="298.3" font-size="10" fill="#8fd232" stroke="#8fd232" stroke-width="0">0.4</text>
<text x="246.62 252.62 255.62" y="298.3" font-size="10" fill="#8fd232" stroke="#8fd232" stroke-width="0">0.6</text>
<text x="281.63" y="298.3" font-size="10" fill="#8fd232" stroke="#8fd232" stroke-width="0">1</text>
<text x="298.09 304.09 307.09" y="298.3" font-size="10" fill="#8fd232" stroke="#8fd232" stroke-width="0">1.4</text>
<text x="325.58" y="298.3" font-size="10" fill="#8fd232" stroke="#8fd232" stroke-width="0">2</text>
<text x="352.75" y="298.3" font-size="10" fill="#8fd232" stroke="#8fd232" stroke-width="0">3</text>
<text x="372.71" y="298.3" font-size="10" fill="#8fd232" stroke="#8fd232" stroke-width="0">4</text>
<text x="401.85" y="298.3" font-size="10" fill="#8fd232" stroke="#8fd232" stroke-width="0">6</text>
<text x="423.25" y="298.3" font-size="10" fill="#8fd232" stroke="#8fd232" stroke-width="0">8</text>
<text x="437.28 443.28" y="298.3" font-size="10" fill="#8fd232" stroke="#8fd232" stroke-width="0">10</text>
<text x="451.46 457.46" y="298.3" font-size="10" fill="#8fd232" stroke="#8fd232" stroke-width="0">12</text>
<text x="463.65 469.65" y="298.3" font-size="10" fill="#8fd232" stroke="#8fd232" stroke-width="0">14</text>
<text x="479.24 485.24" y="298.3" font-size="10" fill="#8fd232" stroke="#8fd232" stroke-width="0">17</text>
<text x="492.49 498.49" y="298.3" font-size="10" fill="#8fd232" stroke="#8fd232" stroke-width="0">20</text>
<text x="510.99 516.99" y="298.3" font-size="10" fill="#8fd232" stroke="#8fd232" stroke-width="0">25</text>
<path d="M72.07 15.5 L72.97 18.5 L73.87 21.5 L74.79 24.5 L75.71 27.5 L76.65 30.5 L77.61 33.5 L78.57 36.5 L79.56 39.5 L80.56 42.5 L81.58 45.5 L82.63 48.5 L83.69 51.5 L84.78 54.5 L85.89 57.5 L87.03 60.5 L88.2 63.5 L89.4 66.5 L90.62 69.5 L91.86 72.5 L93.13 75.5 L94.42 78.5 L95.74 81.5 L97.07 84.5 L98.42 87.5 L99.8 90.5 L101.18 93.5 L102.59 96.5 L104.01 99.5 L105.45 102.5 L106.89 105.5 L108.35 108.5 L109.83 111.5 L111.36 114.5 L112.95 117.5 L114.58 120.5 L116.25 123.5 L117.96 126.5 L119.69 129.5 L121.44 132.5 L123.2 135.5 L124.97 138.5 L126.73 141.5 L128.49 144.5 L130.23 147.5 L131.97 150.5 L133.74 153.5 L135.54 156.5 L137.37 159.5 L139.23 162.5 L141.12 165.5 L143.04 168.5 L144.98 171.5 L146.94 174.5 L148.93 177.5 L150.93 180.5 L152.96 183.5 L155.01 186.5 L157.07 189.5 L159.15 192.5 L161.25 195.5 L163.35 198.5 L165.47 201.5 L167.6 204.5 L169.74 207.5 L171.87 210.5 L174 213.5 L176.14 216.5 L178.28 219.5 L180.45 222.5 L182.63 225.5 L184.84 228.5 L187.09 231.5 L189.37 234.5 L191.69 237.5 L194.06 240.5 L196.47 243.5 L198.89 246.5 L201.31 249.5 L203.73 252.5 L206.15 255.5 L208.58 258.5 L211.02 261.5 L213.48 264.5 L215.95 267.5 L218.44 270.5 L220.96 273.5 L223.51 276.5 L226.09 279.5 L228.7 282.5 L231.35 285.5 L234.04 288.5 L236.77 291.5 L239.55 294.5 L242.38 297.5 L245.27 300.5 L248.19 303.5 L251.13 306.5 L254.1 309.5 L257.09 312.5 L260.11 315.5 L263.15 318.5 L266.22 321.5 L269.32 324.5 L272.44 327.5 L275.59 330.5 L278.76 333.5 L281.96 336.5 L285.19 339.5 L288.44 342.5 L291.72 345.5 L295.03 348.5 L298.37 351.5 L301.73 354.5 L305.13 357.5 L308.55 360.5 L312 363.5 L315.48 366.5 L318.99 369.5 L322.53 372.5 L326.1 375.5 L329.7 378.5 L333.32 381.5 L336.98 384.5 L340.67 387.5 L344.39 390.5 L348.15 393.5 L350.8 395.6" stroke="#a600c6" stroke-width="1" fill="none"/>
<rect x="66.5" y="16" width="74.5" height="95" fill="#fff" fill-opacity="0.8"/>
<rect x="379" y="16" width="104" height="74.5" fill="#fff" fill-opacity="0.8"/>
<rect x="74.5" y="405.5" width="109" height="49.5" fill="#fff" fill-opacity="0.8"/>
<rect x="481" y="267" width="32" height="11" fill="#fff" fill-opacity="0.8"/>
<rect x="472" y="385" width="36" height="11" fill="#fff" fill-opacity="0.8"/>
<rect x="472" y="422" width="34" height="10" fill="#fff" fill-opacity="0.8"/>
<path d="M377.8 15 L370.3 16.7 L365.8 20.2 L361.3 22.3 L355.3 24.2 L350.8 26.8 L344.8 29.8 L344.5 34.7 L338.8 37.4 L329.8 42.2 L326.8 46.7 L323 51.2 L317.8 53.5 L311.8 56.8 L310.3 62.5 L306.5 66.7 L300.6 68.7 L297.3 71.7 L294.8 76.7 L292.3 80.3 L286.5 83 L281.5 85 L278.1 86.7 L277.3 90.8 L276.5 97.5 L273.1 99.2 L266.5 100 L261.5 101.3 L257.3 103.3 L249.8 104.7 L241.5 105.8 L234.8 108 L228.1 109.7 L226.2 111.6 L224.6 114.8 L224.1 119.6 L224.6 126 L225.4 128.4 L220.6 131.6 L216.6 134 L215.8 136.4 L217.4 142 L218.2 150 L218.2 158 L219 164.4 L220.6 170.8 L223 177.2 L224.6 182.8 L224.4 189.8 L226.8 196.2 L229.2 201 L230.2 204.2 L235 213.8 L234.2 223.4 L236.6 229 L243 239.4 L247.8 250.6 L251.8 258.6 L254.6 265.4 L259.4 272.6 L262.6 280.6 L265.8 287 L269.8 293.4 L271.4 299.8 L273.8 307 L273 314.2 L273.8 318.2 L276.2 323.8 L278.6 330.2 L280.2 335 L284 341 L288 350 L290 357.2 L293.2 362 L296.4 370 L299.6 379.6 L302.8 387.6 L305.2 395.6 L305.2 400.4 L303.6 405.2 L301.9 408.4 L301.9 413.3 L305.4 416.8 L308.2 421 L308.2 425.9 L306.1 430.1 L302.6 433.6 L301.2 436.4 L306.1 438.5 L304 440.6 L304 443.4 L301.9 447.6 L298.4 450.4 L292.8 451.8 L287.5 452.4 L275.8 453.5 L264.2 455.2 L257.2 457.5 L252.5 459.9 L253.1 462.6 L256.6 465" stroke="#1e6ef0" stroke-width="1" fill="none"/>
<path d="M221 15 L218 17 L217 20 L216 27 L212 31 L210 35 L206 37 L204 41 L199 47 L193 52 L188 58 L182 63 L176 69 L174 72 L172 77 L169 81 L168 84 L167 89 L162 91 L156 94 L154 97 L159 100 L162 102 L170 104 L177 107 L181 109 L182 114 L181 119 L178 122 L175 126 L174 130 L171 135 L168 139 L164 143 L164 148 L163 152 L164 158 L166 164 L167 171 L169 176 L169 181 L164 184 L156 185 L148 186 L153 188 L158 191 L160 194 L158 198 L159 202 L157 206 L155 210 L148 212 L141 214 L150 216 L158 218 L166 220 L174 221 L182 222 L185.6 225 L189.6 228.2 L185.6 229.8 L181.6 231.4 L177.6 233.8 L172 235.8 L176 237 L175.2 239 L176 240.6 L181.6 243 L176.8 244.6 L176 246.6 L180.8 248.6 L177.6 250.6 L178.4 253 L174.4 255.4 L176 256.6 L183.2 257 L190.4 258.2 L192 260.2 L189.6 262.6 L187.2 264.6 L182 268 L176 270 L182 272 L174 274 L169 277 L174 278 L184 280 L188 283 L196 285 L205 287 L206 290 L202 294 L203 298 L207 301.6 L200 303 L190 305 L180 307 L168 309 L156 311 L144 312.4 L132 313.6 L138 315 L146 317 L153 317 L149 320 L156 323 L163 324 L154 325 L144 326 L132 327 L123 329 L120.5 331 L122 333.5 L128 334.5 L133 335.5 L139 336.5 L145 336.5 L149 337 L140 338.5 L145 339.5 L149 340.5 L150 342.5 L147 343 L153 345 L154 346.5 L145 347.5 L149 349 L158 349 L153 351 L151 352.5 L145 354 L139 355 L140 356.5 L145 358 L147 361 L149 363 L149 365 L155 367 L148 369 L140 370 L135 372 L136 374 L141.7 376.7 L148.3 378.3 L154.2 380.8 L151.7 383.3 L145.8 385.8 L143.3 389.2 L139.2 391.7 L135.8 393.3 L138.3 395 L145 397.5 L153.3 400 L163.3 401.7 L173.3 403.3 L181.7 405 L186.7 408.3 L195 409.2 L200 409.9 L208 411 L216 411.7 L225.3 412.1 L238 413 L238.7 415.7 L245.3 416.3 L253.3 417 L258.7 418 L265.3 419.3 L268.8 420 L265.9 422.9 L265.3 425.8 L270 428.2 L275.8 429.9 L278.2 432.8 L279.3 435.2 L286.3 435.8 L293.3 436.9 L298.2 437.8 L298 441.4 L294.5 443.3 L290.4 445.1 L289.3 447.4 L288.7 449.8 L284 451.3 L270 452.1 L258.3 452.7 L252.5 453.8 L246.7 455.6 L243.8 458.5 L242.6 461.4 L243.5 464.8" stroke="#0a870a" stroke-width="2.3" fill="none" stroke-linejoin="round"/>
<path d="M378.3 15 L370.8 16.7 L366.3 20.2 L361.8 22.3 L355.8 24.2 L351.3 26.8 L345.3 29.8 L345 34.7 L339.3 37.4 L330.3 42.2 L327.3 46.7 L323.5 51.2 L318.3 53.5 L312.3 56.8 L310.8 62.5 L307 66.7 L301.1 68.7 L297.8 71.7 L295.3 76.7 L292.8 80.3 L287 83 L282 85 L278.6 86.7 L277.8 90.8 L277 97.5 L273.6 99.2 L267 100 L262 101.3 L257.8 103.3 L250.3 104.7 L242 105.8 L235.3 108 L228.6 109.7 L226.7 111.6 L225.1 114.8 L224.6 119.6 L225.1 126 L225.9 128.4 L221.1 131.6 L217.1 134 L216.3 136.4 L217.9 142 L218.7 150 L218.7 158 L219.5 164.4 L221.1 170.8 L223.5 177.2 L225.1 182.8 L224.9 189.8 L227.3 196.2 L229.7 201 L232.1 207.4 L236.1 211.4 L236.9 215.4 L236.1 221.8 L236.9 226.6 L238.5 230.6 L241.7 234.6 L245.7 241 L248.9 247.4 L252.1 253.8 L255.3 259.4 L258.5 264.2 L260.5 267 L263.7 271.8 L266.9 275.8 L269.3 282.2 L271.7 287.8 L276.5 293.4 L279.7 299.8 L283.7 306.2 L285.3 312.6 L286.9 319 L290.9 323.8 L294.9 328.6 L298.3 334 L302.3 340.4 L307.9 346 L311.9 350.8 L315.9 356.4 L320.7 362 L325.5 367.6 L330.3 373.2 L334.3 379.6 L339.9 384.4 L345.5 390 L350.3 394.8 L351.9 398 L351.1 401.2 L347.9 405.2 L344.7 408.4 L342.1 409.1 L338.3 415.4 L338.3 425.2 L336.2 427.3 L327.1 430.8 L313.8 440.6 L313.1 447.6 L310.3 449.7 L304 451.8 L293 453.6 L282 455.3 L270 457.2 L262 459.8 L259.5 462 L262.3 464 L266.2 465.5" stroke="#a00000" stroke-width="1.4" fill="none"/>
<path d="M378 15 L370.5 16.7 L366 20.2 L361.5 22.3 L355.5 24.2 L351 26.8 L345 29.8 L344.7 34.7 L339 37.4 L330 42.2 L327 46.7 L323.2 51.2 L318 53.5 L312 56.8 L310.5 62.5 L306.7 66.7 L300.8 68.7 L297.5 71.7 L295 76.7 L292.5 80.3 L286.7 83 L281.7 85 L278.3 86.7 L277.5 90.8 L276.7 97.5 L273.3 99.2 L266.7 100 L261.7 101.3 L257.5 103.3 L250 104.7 L241.7 105.8 L235 108 L228.3 109.7 L226.4 111.6 L224.8 114.8 L224.3 119.6 L224.8 126 L225.6 128.4 L220.8 131.6 L216.8 134 L216 136.4 L217.6 142 L218.4 150 L218.4 158 L219.2 164.4 L220.8 170.8 L223.2 177.2 L224.8 182.8 L224.6 189.8 L227 196.2 L229.4 201 L231.8 207.4 L235.8 211.4 L236.6 215.4 L235.8 221.8 L236.6 226.6 L238.2 230.6 L241.4 234.6 L245.4 241 L248.6 247.4 L251.8 253.8 L255 259.4 L258.2 264.2 L260.2 267 L263.4 271.8 L266.6 275.8 L269 282.2 L271.4 287.8 L276.2 293.4 L279.4 299.8" stroke="#ff0000" stroke-width="2.2" fill="none" stroke-linejoin="round"/>
<path d="M276.2 293.4 L279.4 299.8 L283.4 306.2 L285 312.6 L286.6 319 L290.6 323.8 L294.6 328.6 L298 334 L302 340.4 L307.6 346 L311.6 350.8 L315.6 356.4 L320.4 362 L325.2 367.6 L330 373.2 L334 379.6 L339.6 384.4 L345.2 390 L350 394.8 L351.6 398 L350.8 401.2 L347.6 405.2 L344.4 408.4 L341.8 409.1 L337.6 411.2 L335.5 414 L334.8 418.2 L335.5 422.4 L334.8 425.9 L332 427.3 L327.8 428.7 L323.6 430.1 L320.1 433.6 L315.9 435.7 L311 438.5 L308.9 440.6 L308.9 444.8 L308.9 448.3 L305.4 449.7 L299.8 451.1 L293.3 452.6 L281.7 454.3 L270 456.1 L261.8 457.8 L256 460.2 L255.4 460.8 L259.5 463 L264.5 464.8" stroke="#ff0000" stroke-width="2.7" fill="none" stroke-linejoin="round"/>
<path d="M284.4 306.2 L286 312.6 L287.6 319 L291.6 323.8 L295.6 328.6 L299 334 L303 340.4 L308.6 346 L312.6 350.8 L316.6 356.4 L321.4 362 L326.2 367.6 L331 373.2 L335 379.6 L340.6 384.4 L346.2 390 L351 394.8" stroke="#b00000" stroke-width="1" fill="none"/>
<path d="M210 113.5 H231" stroke="#000" stroke-width="1"/>
<text x="232 238 241 247 253" y="118.2" font-size="10" fill="#222" stroke="#222" stroke-width="0.1">Tropo</text>
<text x="21 27 33" y="19.5" font-size="11" fill="#111" stroke="#111" stroke-width="0.2">100</text>
<text x="21 27 33" y="154.5" font-size="11" fill="#111" stroke="#111" stroke-width="0.2">200</text>
<text x="21 27 33" y="233.5" font-size="11" fill="#111" stroke="#111" stroke-width="0.2">300</text>
<text x="21 27 33" y="289.5" font-size="11" fill="#111" stroke="#111" stroke-width="0.2">400</text>
<text x="21 27 33" y="333.5" font-size="11" fill="#111" stroke="#111" stroke-width="0.2">500</text>
<text x="21 27 33" y="369.5" font-size="11" fill="#111" stroke="#111" stroke-width="0.2">600</text>
<text x="21 27 33" y="399.5" font-size="11" fill="#111" stroke="#111" stroke-width="0.2">700</text>
<text x="21 27 33" y="437.5" font-size="11" fill="#111" stroke="#111" stroke-width="0.2">850</text>
<text x="21 27 33" y="453.5" font-size="11" fill="#111" stroke="#111" stroke-width="0.2">925</text>
<text x="18 24 30 36" y="468.5" font-size="11" fill="#111" stroke="#111" stroke-width="0.2">1000</text>
<text x="54 60" y="23.3" font-size="10" fill="#1010ee" stroke="#1010ee" stroke-width="0.1">16</text>
<text x="54 60" y="55.3" font-size="10" fill="#1010ee" stroke="#1010ee" stroke-width="0.1">15</text>
<text x="54 60" y="86.3" font-size="10" fill="#1010ee" stroke="#1010ee" stroke-width="0.1">14</text>
<text x="54 60" y="119.3" font-size="10" fill="#1010ee" stroke="#1010ee" stroke-width="0.1">13</text>
<text x="54 60" y="151.3" font-size="10" fill="#1010ee" stroke="#1010ee" stroke-width="0.1">12</text>
<text x="54 60" y="183.3" font-size="10" fill="#1010ee" stroke="#1010ee" stroke-width="0.1">11</text>
<text x="54 60" y="213.3" font-size="10" fill="#1010ee" stroke="#1010ee" stroke-width="0.1">10</text>
<text x="57" y="242.3" font-size="10" fill="#1010ee" stroke="#1010ee" stroke-width="0.1">9</text>
<text x="57" y="272.3" font-size="10" fill="#1010ee" stroke="#1010ee" stroke-width="0.1">8</text>
<text x="57" y="299.3" font-size="10" fill="#1010ee" stroke="#1010ee" stroke-width="0.1">7</text>
<text x="57" y="326.3" font-size="10" fill="#1010ee" stroke="#1010ee" stroke-width="0.1">6</text>
<text x="57" y="352.3" font-size="10" fill="#1010ee" stroke="#1010ee" stroke-width="0.1">5</text>
<text x="57" y="378.3" font-size="10" fill="#1010ee" stroke="#1010ee" stroke-width="0.1">4</text>
<text x="57" y="402.3" font-size="10" fill="#1010ee" stroke="#1010ee" stroke-width="0.1">3</text>
<text x="57" y="427.3" font-size="10" fill="#1010ee" stroke="#1010ee" stroke-width="0.1">2</text>
<text x="57" y="451.3" font-size="10" fill="#1010ee" stroke="#1010ee" stroke-width="0.1">1</text>
<path d="M47 18.5 H53 M47 50.5 H53 M47 81.5 H53 M47 114.5 H53 M47 146.5 H53 M47 178.5 H53 M47 208.5 H53 M47 237.5 H53 M47 267.5 H53 M47 294.5 H53 M47 321.5 H53 M47 347.5 H53 M47 373.5 H53 M47 397.5 H53 M47 422.5 H53 M47 446.5 H53" stroke="#1010ee" stroke-width="1"/>
<text x="86.51 90.51 96.51" y="482" font-size="11" fill="#111" stroke="#111" stroke-width="0.2">-30</text>
<text x="142.69 146.69 152.69" y="482" font-size="11" fill="#111" stroke="#111" stroke-width="0.2">-20</text>
<text x="198.87 202.87 208.87" y="482" font-size="11" fill="#111" stroke="#111" stroke-width="0.2">-10</text>
<text x="260.85" y="482" font-size="11" fill="#111" stroke="#111" stroke-width="0.2">0</text>
<text x="314.03 320.03" y="482" font-size="11" fill="#111" stroke="#111" stroke-width="0.2">10</text>
<text x="370.21 376.21" y="482" font-size="11" fill="#111" stroke="#111" stroke-width="0.2">20</text>
<text x="426.39 432.39" y="482" font-size="11" fill="#111" stroke="#111" stroke-width="0.2">30</text>
<text x="482.57 488.57" y="482" font-size="11" fill="#111" stroke="#111" stroke-width="0.2">40</text>
<text x="196.5 203.5 209.5 218.5 224.5 230.5 234.5 240.5 243.5 249.5 253.5 259.5 262.5 265.5 269.5 277.5" y="497" font-size="11" fill="#111" stroke="#111" stroke-width="0.2">Temperature [°C]</text>
<text x="287" y="497" font-size="11" fill="#111" stroke="#111" stroke-width="0.2">/</text>
<text x="301.5 310.5 312.5 318.5 320.5 326.5 332.5 335.5 339.5 345.5 348.5 350.5 356.5 359.5 362.5 368.5 371.5 377.5 383.5" y="497" font-size="11" fill="#33bb22" stroke="#33bb22" stroke-width="0.2">Mixing ratio [g/kg]</text>
<text x="511.5 518.5 524.5 531.5 534.5 537.5 543.5 549.5 555.5 558.5 566.5 569.5 576.5 583.5" y="495" font-size="10" fill="#2020ee" stroke="#2020ee" stroke-width="0.1">SFC: 215 m ASL</text>
<text x="0 7 11 17 23 29 35 39 45 48 51 57 64 70" y="0" font-size="11" fill="#111" stroke="#111" stroke-width="0.2" transform="translate(11.2 334) rotate(-90)">Pressure [hPa]</text>
<text x="0" y="0" font-size="11" fill="#111" stroke="#111" stroke-width="0.2" transform="translate(11.2 256.3) rotate(-90)">/</text>
<text x="0 7 9 12 14 17 23 29 35 38 41 47 56" y="0" font-size="11" fill="#2020ee" stroke="#2020ee" stroke-width="0.2" transform="translate(11.2 242.6) rotate(-90)">Altitude [km]</text>
<text x="70 77 84 91 100 103" y="30.3" font-size="10" fill="#111" stroke="#111" stroke-width="0.1">SKEW-T</text>
<text x="70 73 79 87 93 99 102 108 111 117 120" y="45.3" font-size="10" fill="#ff0000" stroke="#ff0000" stroke-width="0.1">temperature</text>
<text x="70 75 77 80 83 86 89 95 103 109" y="55.3" font-size="10" fill="#a01010" stroke="#a01010" stroke-width="0.1">virt.temp.</text>
<text x="70 76 82 89 92 98 104 106 112" y="65.4" font-size="10" fill="#1a8a1a" stroke="#1a8a1a" stroke-width="0.1">dew point</text>
<text x="70 77 83 86 89 95 101 103 109 112 115 121 129 135" y="75.3" font-size="10" fill="#3377ee" stroke="#3377ee" stroke-width="0.1">wet bulb temp.</text>
<text x="70 76 82 88 91 97 100 103 106 111 114 117 123 131 137" y="85.4" font-size="10" fill="#b020c0" stroke="#b020c0" stroke-width="0.1">udpraft v.temp.</text>
<text x="382 389 395 398 401 407 412 418" y="30.9" font-size="10" fill="#111" stroke="#111" stroke-width="0.1">Surface:</text>
<text x="386 392 395 401 406 411 414 417 423 429 435 441 444 450 453 459 466" y="43.2" font-size="10" fill="#111" stroke="#111" stroke-width="0.1">press: 1001.5 hPa</text>
<text x="386 389 395 403 409 412 415 418 424 427 433 436 440" y="53.3" font-size="10" fill="#ff1111" stroke="#ff1111" stroke-width="0.1">temp: -0.8 °C</text>
<text x="386 392 399 405 408 411 414 417 423 426 432 435 439" y="63" font-size="10" fill="#1a9a1a" stroke="#1a9a1a" stroke-width="0.1">dwpt: -4.5 °C</text>
<text x="386 389 392 397 403 409 414 417 420 426 432 435 441 444 448" y="78" font-size="10" fill="#111" stroke="#111" stroke-width="0.1">t-conv: 33.8 °C</text>
<text x="386 389 392 400 405 408 413 416 419 425 431 434 440 443 447" y="88" font-size="10" fill="#111" stroke="#111" stroke-width="0.1">t-mxfc: 19.2 °C</text>
<text x="78 84 87 90 96 103 109" y="417.5" font-size="10" fill="#111" stroke="#111" stroke-width="0.1">p [hPa]</text>
<text x="124.5" y="417.5" font-size="10" fill="#111" stroke="#111" stroke-width="0.1">T</text>
<text x="147 153 159 162 165 169 176" y="417.5" font-size="10" fill="#111" stroke="#111" stroke-width="0.1">Td [°C]</text>
<text x="85 91 97" y="431.6" font-size="10" fill="#111" stroke="#111" stroke-width="0.1">500</text>
<text x="113 116 122 128 131" y="431.6" font-size="10" fill="#111" stroke="#111" stroke-width="0.1">-19.6</text>
<text x="150 153 159 165 168" y="431.6" font-size="10" fill="#111" stroke="#111" stroke-width="0.1">-49.6</text>
<text x="85 91 97" y="441.4" font-size="10" fill="#111" stroke="#111" stroke-width="0.1">700</text>
<text x="122 128 131" y="441.4" font-size="10" fill="#111" stroke="#111" stroke-width="0.1">1.8</text>
<text x="150 153 159 165 168" y="441.4" font-size="10" fill="#111" stroke="#111" stroke-width="0.1">-35.7</text>
<text x="85 91 97" y="451.2" font-size="10" fill="#111" stroke="#111" stroke-width="0.1">850</text>
<text x="122 128 131" y="451.2" font-size="10" fill="#111" stroke="#111" stroke-width="0.1">3.9</text>
<text x="156 159 165 168" y="451.2" font-size="10" fill="#111" stroke="#111" stroke-width="0.1">-3.5</text>
<text x="482 490 497 506" y="276.8" font-size="10" fill="#ff1111" stroke="#ff1111" stroke-width="0.1">MXWS</text><path d="M515 272.5 H521" stroke="#ff1111"/>
<path d="M465 390.5 H471" stroke="#ff1111"/><text x="472.5 478.5 484.5 490.5" y="395" font-size="10" fill="#ff1111" stroke="#ff1111" stroke-width="0.1">FZLV</text>
<path d="M465 427.5 H471" stroke="#3366dd"/><text x="472.5 481.5 488.5 494.5" y="431.6" font-size="10" fill="#3366dd" stroke="#3366dd" stroke-width="0.1">WBZL</text>
<path d="M555.2 18.2 L539 0 M539 0 L546.84 -6.98 M540.86 2.09 L548.7 -4.89 M542.72 4.18 L550.57 -2.8 M544.58 6.27 L552.43 -0.71" stroke="#000" stroke-width="1" fill="none"/><rect x="553.7" y="16.7" width="3" height="3" fill="#000"/>
<path d="M555.2 50.4 L543.8 27.6 M543.8 27.6 L553.19 22.9 M545.05 30.1 L554.44 25.41 M546.3 32.61 L555.7 27.91 M547.56 35.11 L556.95 30.42" stroke="#000" stroke-width="1" fill="none"/><rect x="553.7" y="48.9" width="3" height="3" fill="#000"/>
<path d="M555.3 81.6 L537.1 63.4 M537.1 63.4 L544.52 55.98 M539.08 65.38 L546.5 57.96" stroke="#000" stroke-width="1" fill="none"/><rect x="553.8" y="80.1" width="3" height="3" fill="#000"/>
<path d="M555.3 114.5 L565.7 92 M565.7 92 L575.23 96.41 M564.53 94.54 L574.06 98.95 M563.35 97.08 L572.88 101.49" stroke="#000" stroke-width="1" fill="none"/><rect x="553.8" y="113" width="3" height="3" fill="#000"/>
<path d="M555.4 146.5 L555.4 121.3 M555.4 121.3 L565.9 121.3 M555.4 124.1 L565.9 124.1 M555.4 126.9 L565.9 126.9" stroke="#000" stroke-width="1" fill="none"/><rect x="553.9" y="145" width="3" height="3" fill="#000"/>
<path d="M555.4 178.3 L556.5 153.1 M556.5 153.1 L566.99 153.56 M556.38 155.9 L566.87 156.36 M556.26 158.69 L566.75 159.15 M556.13 161.49 L566.62 161.95" stroke="#000" stroke-width="1" fill="none"/><rect x="553.9" y="176.8" width="3" height="3" fill="#000"/>
<path d="M555.4 208.1 L557.5 183.6 M557.5 183.6 L567.96 184.5 M557.26 186.39 L567.72 187.29 M557.02 189.18 L567.48 190.08 M556.78 191.97 L562.26 192.44" stroke="#000" stroke-width="1" fill="none"/><rect x="553.9" y="206.6" width="3" height="3" fill="#000"/>
<path d="M555.4 238.2 L562.4 214.7 M562.4 214.7 L572.46 217.7 M561.6 217.38 L571.66 220.38 M560.8 220.07 L570.86 223.06 M560 222.75 L570.07 225.75 M559.2 225.43 L569.27 228.43" stroke="#000" stroke-width="1" fill="none"/><rect x="553.9" y="236.7" width="3" height="3" fill="#000"/>
<path d="M555.3 267.5 L560 242.8 M560 242.8 L570.31 244.76 M559.48 245.55 L569.79 247.51 M558.95 248.3 L569.27 250.26 M558.43 251.05 L568.74 253.01" stroke="#000" stroke-width="1" fill="none"/><rect x="553.8" y="266" width="3" height="3" fill="#000"/>
<path d="M555.5 294.4 L555 269.5 M555 269.5 L565.5 269.29 M555.06 272.3 L565.55 272.09 M555.11 275.1 L565.61 274.89" stroke="#000" stroke-width="1" fill="none"/><rect x="554" y="292.9" width="3" height="3" fill="#000"/>
<path d="M555.2 321.2 L545.4 298.4 M545.4 298.4 L555.05 294.25 M546.51 300.97 L556.15 296.83 M547.61 303.54 L557.26 299.4 M548.72 306.12 L553.77 303.95" stroke="#000" stroke-width="1" fill="none"/><rect x="553.7" y="319.7" width="3" height="3" fill="#000"/>
<path d="M555.2 347.2 L542 326 M542 326 L550.91 320.45 M543.48 328.38 L552.39 322.83 M544.96 330.75 L553.87 325.2" stroke="#000" stroke-width="1" fill="none"/><rect x="553.7" y="345.7" width="3" height="3" fill="#000"/>
<path d="M555.4 373.2 L542.6 354 M542.6 354 L551.34 348.18 M544.15 356.33 L552.89 350.51 M545.71 358.66 L554.44 352.84" stroke="#000" stroke-width="1" fill="none"/><rect x="553.9" y="371.7" width="3" height="3" fill="#000"/>
<path d="M555 397.2 L540.6 376.8 M540.6 376.8 L549.18 370.74 M542.21 379.09 L550.79 373.03 M543.83 381.38 L552.41 375.32" stroke="#000" stroke-width="1" fill="none"/><rect x="553.5" y="395.7" width="3" height="3" fill="#000"/>
<path d="M555.6 422.4 L549 398.4 M549 398.4 L559.12 395.62 M549.74 401.1 L555.05 399.64" stroke="#000" stroke-width="1" fill="none"/><rect x="554.1" y="420.9" width="3" height="3" fill="#000"/>
<path d="M555.5 445.8 L538.5 427.5 M538.5 427.5 L546.19 420.35 M540.41 429.55 L544.44 425.81" stroke="#000" stroke-width="1" fill="none"/><rect x="554" y="444.3" width="3" height="3" fill="#000"/>
<path d="M555.6 272.6 V247 M555.6 247.5 H560 M555.6 250 H565.6 M555.6 252.4 H565.6 M555.6 254.8 H565.6 M555.6 257.2 H565.6 M555.6 259.8 H560.6" stroke="#ff0000" stroke-width="1" fill="none"/><rect x="554" y="271" width="3.2" height="3.2" fill="#ff0000"/>
<path d="M555.5 465.2 L578.8 472.7" stroke="#0000ee" stroke-width="1.2"/><rect x="554" y="463.7" width="3" height="3" fill="#0000ee"/>
<text x="50 58 63 70 77 81 88 91 98" y="12" font-size="12" fill="#000" stroke="#000" stroke-width="0.2" font-weight="bold">Prostejov</text>
<text x="116.6 123.6 130.6 133.6 140.6 147.6 150.6 157.6 164.6 171.6 178.6 181.6 188.6 195.6 198.6 207.6 214.6" y="12" font-size="12" fill="#000" stroke="#000" stroke-width="0.2" font-weight="bold">27.12.2025 12 UTC</text>
<text x="530.5 538.5 546.5 555.5 558.5 561.5 569.5 572.5 578.5 584.5 590.5" y="11" font-size="11" fill="#ff0000" stroke="#ff0000" stroke-width="0.2">CHMI © 2025</text>
</svg></body></html>
